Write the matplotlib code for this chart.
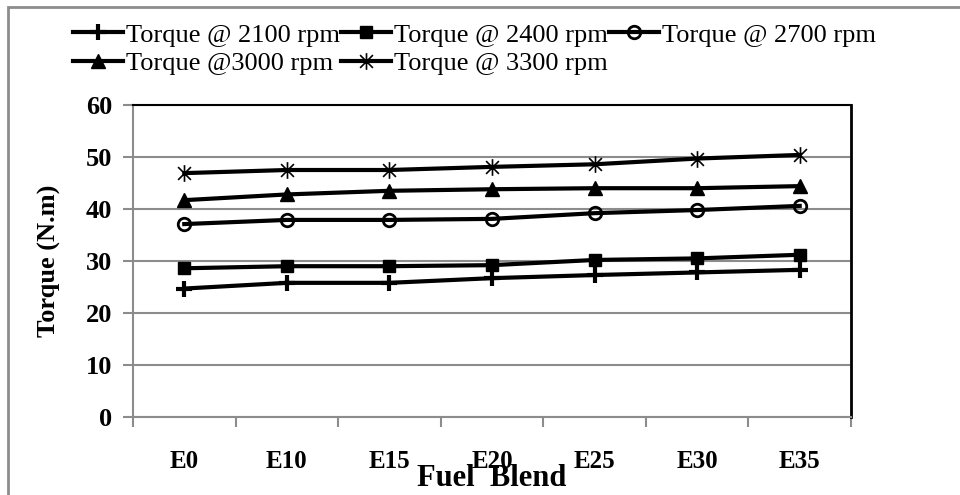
import numpy as np
import matplotlib
matplotlib.use("Agg")
import matplotlib.pyplot as plt
from matplotlib.path import Path
from matplotlib.patches import Rectangle

blends = ["E0", "E10", "E15", "E20", "E25", "E30", "E35"]
t2100 = [24.7, 25.8, 25.8, 26.7, 27.3, 27.8, 28.3]
t2400 = [28.6, 29.0, 29.0, 29.2, 30.2, 30.5, 31.2]
t2700 = [37.1, 37.9, 37.9, 38.1, 39.2, 39.8, 40.6]
t3000 = [41.7, 42.8, 43.5, 43.8, 44.0, 44.0, 44.4]
t3300 = [46.9, 47.5, 47.5, 48.1, 48.6, 49.7, 50.4]
labels = ["Torque @ 2100 rpm", "Torque @ 2400 rpm", "Torque @ 2700 rpm",
          "Torque @3000 rpm", "Torque @ 3300 rpm"]

plt.rcParams['font.family'] = ['Liberation Serif', 'DejaVu Serif']

# excel-like star marker: x plus a vertical stroke
star = Path([(-1, -1), (1, 1), (-1, 1), (1, -1), (0, -1.3), (0, 1.3)],
            [Path.MOVETO, Path.LINETO, Path.MOVETO, Path.LINETO, Path.MOVETO, Path.LINETO])

fig = plt.figure(figsize=(9.6, 4.95), dpi=100)
ax = fig.add_axes([133/960, 1-417/495, 718/960, 312/495])

x = np.arange(len(blends))
styles = [
    dict(marker='+', markersize=12, markeredgewidth=3),
    dict(marker='s', markersize=9),
    dict(marker='o', markersize=9, markerfacecolor='none', markeredgewidth=2),
    dict(marker='^', markersize=10),
    dict(marker=star, markersize=12, markeredgewidth=1.2),
]
handles = []
for ys, st, lab in zip([t2100, t2400, t2700, t3000, t3300], styles, labels):
    h, = ax.plot(x, ys, color='black', linewidth=3, label=lab, **st)
    handles.append(h)

ax.set_xlim(-0.5, len(blends) - 0.5)
ax.set_ylim(0, 60)
ax.set_yticks(range(0, 61, 10))
ax.set_xticks(x)
ax.set_xticklabels(blends)
ax.set_xticks(np.arange(-0.5, len(blends)), minor=True)
ax.tick_params(axis='x', which='major', length=0, pad=24)
ax.tick_params(axis='x', which='minor', length=7, width=1.5, color='#8c8c8c', direction='out')
ax.tick_params(axis='y', length=7, width=1.5, color='#8c8c8c', pad=8)
for lab in ax.get_xticklabels():
    lab.set_fontsize(18)
    lab.set_fontweight('bold')
for lab in ax.get_yticklabels():
    lab.set_fontsize(19)
    lab.set_fontweight('bold')

ax.grid(axis='y', color='#8c8c8c', linewidth=1.5)
ax.set_axisbelow(True)
ax.spines['left'].set_color('#8c8c8c')
ax.spines['bottom'].set_color('#8c8c8c')
ax.spines['left'].set_linewidth(1.5)
ax.spines['bottom'].set_linewidth(1.5)
ax.spines['top'].set_color('black')
ax.spines['right'].set_color('black')
ax.spines['top'].set_linewidth(1.5)
ax.spines['right'].set_linewidth(2)

ax.set_ylabel("Torque (N.m)", fontsize=19, fontweight='bold')
ax.yaxis.set_label_coords(-0.10, 0.5)
ax.set_xlabel("Fuel  Blend", fontsize=22, fontweight='bold', va='center')
ax.xaxis.set_label_coords(0.5, -0.196)

# legend is filled column by column, so order it to read row-wise
order = [0, 3, 1, 4, 2]
fig.legend(handles=[handles[i] for i in order], labels=[labels[i] for i in order],
           ncol=3, loc='upper left',
           bbox_to_anchor=(60/960, 1-10/495), frameon=False, fontsize=19,
           handlelength=1.9, handletextpad=0.1, columnspacing=0.05,
           labelspacing=0.2, borderpad=0)

fig.patches.append(Rectangle((8/960, -0.1), 1.2, 1-7/495+0.1, transform=fig.transFigure,
                             fill=False, edgecolor='#8c8c8c', linewidth=2))

fig.savefig("out.png", dpi=100)
